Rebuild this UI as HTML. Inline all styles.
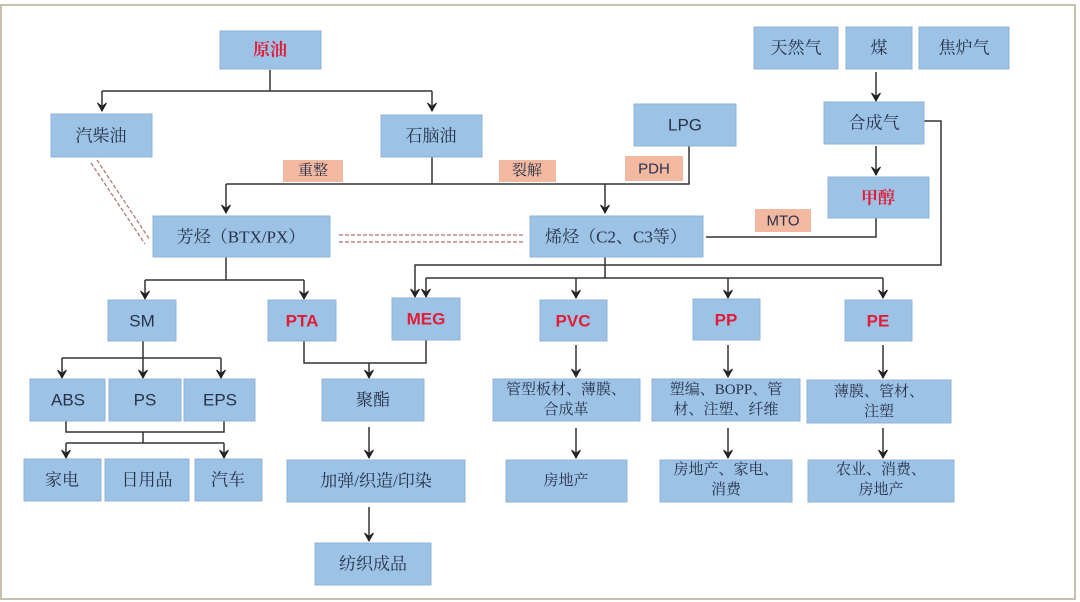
<!DOCTYPE html>
<html><head><meta charset="utf-8"><style>
html,body{margin:0;padding:0;background:#fff;}
svg{display:block;}
.b{fill:#9cc3e5;stroke:#8fb3d6;stroke-width:1;}
.o{fill:#f3b8a0;}
.t{font-family:"Liberation Serif","Noto Serif CJK SC",serif;font-size:17px;fill:#27314a;text-anchor:middle;dominant-baseline:central;}
.l{font-family:"Liberation Sans","Noto Sans CJK SC",sans-serif;font-size:17px;fill:#27314a;text-anchor:middle;dominant-baseline:central;}
.r{fill:#e21c36;font-weight:bold;}
.s{font-size:15px;}
.ln{stroke:#333;stroke-width:1.5;fill:none;}
</style></head><body>
<svg width="1080" height="602" viewBox="0 0 1080 602" xmlns="http://www.w3.org/2000/svg">
<defs><marker id="a" markerWidth="12" markerHeight="12" refX="6" refY="10" orient="0" markerUnits="userSpaceOnUse" viewBox="0 0 12 12"><path d="M1.5,2 L6,10 L10.5,2 L6,5.5 Z" fill="#222" stroke="#222" stroke-width="1"/></marker></defs>
<rect x="1" y="5" width="1074" height="594" fill="#fff" stroke="#c8bfae" stroke-width="2"/>

<g class="ln">
<path d="M270,70 V91 M102,91 H432"/>
<path d="M102,91 V111" marker-end="url(#a)"/><path d="M432,91 V111" marker-end="url(#a)"/>
<path d="M432,157 V184 M226,184 H689 V146"/>
<path d="M226,184 V213" marker-end="url(#a)"/><path d="M605,184 V213" marker-end="url(#a)"/>
<path d="M876,72 V101" marker-end="url(#a)"/>
<path d="M876,146 V175" marker-end="url(#a)"/>
<path d="M876,218 V237 H706"/>
<path d="M924,121 H941 V265 H415 V297" marker-end="url(#a)"/>
<path d="M605,257 V278 H883 M426,278 H605"/>
<path d="M426,278 V297" marker-end="url(#a)"/>
<path d="M576,278 V298" marker-end="url(#a)"/><path d="M728,278 V298" marker-end="url(#a)"/><path d="M883,278 V298" marker-end="url(#a)"/>
<path d="M226,257 V280 M145,280 H304"/>
<path d="M145,280 V299" marker-end="url(#a)"/><path d="M304,280 V299" marker-end="url(#a)"/>
<path d="M143,341 V358 M62,358 H221"/>
<path d="M62,358 V378" marker-end="url(#a)"/><path d="M143,358 V378" marker-end="url(#a)"/><path d="M221,358 V378" marker-end="url(#a)"/>
<path d="M66,421 V432 H224 V421 M143,432 V443 M66,443 H224"/>
<path d="M66,443 V458" marker-end="url(#a)"/><path d="M224,443 V458" marker-end="url(#a)"/>
<path d="M304,341 V363 H426 V340 M369,363 V378" marker-end="url(#a)"/>
<path d="M369,427 V458" marker-end="url(#a)"/>
<path d="M369,507 V541" marker-end="url(#a)"/>
<path d="M576,345 V377" marker-end="url(#a)"/><path d="M728,345 V377" marker-end="url(#a)"/><path d="M883,345 V378" marker-end="url(#a)"/>
<path d="M576,428 V458" marker-end="url(#a)"/><path d="M728,428 V458" marker-end="url(#a)"/><path d="M883,428 V458" marker-end="url(#a)"/>
</g>
<g stroke="#b07070" stroke-width="1.2" stroke-dasharray="4,2" fill="none">
<path d="M91,163 L145,244"/><path d="M97,160 L150,240"/>
<path d="M339,235 H525"/><path d="M339,242 H525"/>
</g>

<rect class="b" x="220" y="31" width="101" height="38"/><text class="t r" x="270" y="50">原油</text>
<rect class="b" x="51" y="114" width="101" height="43"/><text class="t" x="101" y="136">汽柴油</text>
<rect class="b" x="381" y="115" width="101" height="42"/><text class="t" x="431" y="136">石脑油</text>
<rect class="o" x="283" y="160" width="60" height="22"/><text class="t s" x="313" y="171">重整</text>
<rect class="o" x="499" y="160" width="57" height="22"/><text class="t s" x="527" y="171">裂解</text>
<rect class="b" x="634" y="104" width="102" height="42"/><text class="l" x="685" y="125">LPG</text>
<rect class="o" x="625" y="156" width="58" height="25"/><text class="l s" x="654" y="169">PDH</text>
<rect class="b" x="754" y="27" width="84" height="42"/><text class="t" x="796" y="48">天然气</text>
<rect class="b" x="846" y="27" width="66" height="42"/><text class="t" x="879" y="48">煤</text>
<rect class="b" x="919" y="27" width="90" height="42"/><text class="t" x="964" y="48">焦炉气</text>
<rect class="b" x="824" y="102" width="100" height="42"/><text class="t" x="874" y="123">合成气</text>
<rect class="b" x="828" y="177" width="101" height="41"/><text class="t r" x="878" y="198">甲醇</text>
<rect class="o" x="755" y="209" width="56" height="23"/><text class="l s" x="783" y="221">MTO</text>
<rect class="b" x="153" y="216" width="177" height="41"/><text class="t" x="241" y="237">芳烃（BTX/PX）</text>
<rect class="b" x="530" y="216" width="173" height="41"/><text class="t" x="616" y="237">烯烃（C2、C3等）</text>

<rect class="b" x="108" y="300" width="68" height="41"/><text class="l" x="142" y="321">SM</text>
<rect class="b" x="268" y="300" width="68" height="41"/><text class="l r" x="302" y="321">PTA</text>
<rect class="b" x="392" y="298" width="68" height="42"/><text class="l r" x="426" y="319">MEG</text>
<rect class="b" x="540" y="300" width="67" height="41"/><text class="l r" x="573" y="321">PVC</text>
<rect class="b" x="693" y="299" width="67" height="41"/><text class="l r" x="726" y="320">PP</text>
<rect class="b" x="845" y="300" width="67" height="41"/><text class="l r" x="878" y="321">PE</text>

<rect class="b" x="30" y="379" width="75" height="42"/><text class="l" x="68" y="400">ABS</text>
<rect class="b" x="109" y="379" width="72" height="42"/><text class="l" x="145" y="400">PS</text>
<rect class="b" x="184" y="379" width="71" height="42"/><text class="l" x="220" y="400">EPS</text>
<rect class="b" x="322" y="379" width="102" height="42"/><text class="t" x="373" y="400">聚酯</text>
<rect class="b" x="493" y="379" width="147" height="42"/><text class="t s" x="566" y="390">管型板材、薄膜、</text><text class="t s" x="566" y="410">合成革</text>
<rect class="b" x="652" y="379" width="148" height="42"/><text class="t s" x="726" y="390">塑编、BOPP、管</text><text class="t s" x="726" y="410">材、注塑、纤维</text>
<rect class="b" x="807" y="380" width="144" height="43"/><text class="t s" x="879" y="392">薄膜、管材、</text><text class="t s" x="879" y="412">注塑</text>

<rect class="b" x="24" y="459" width="77" height="42"/><text class="t" x="62" y="480">家电</text>
<rect class="b" x="105" y="459" width="84" height="42"/><text class="t" x="147" y="480">日用品</text>
<rect class="b" x="195" y="459" width="67" height="42"/><text class="t" x="228" y="480">汽车</text>
<rect class="b" x="287" y="460" width="178" height="42"/><text class="t" x="376" y="481">加弹/织造/印染</text>
<rect class="b" x="506" y="460" width="121" height="42"/><text class="t s" x="566" y="481">房地产</text>
<rect class="b" x="660" y="460" width="132" height="42"/><text class="t s" x="726" y="470">房地产、家电、</text><text class="t s" x="726" y="490">消费</text>
<rect class="b" x="808" y="460" width="146" height="42"/><text class="t s" x="881" y="470">农业、消费、</text><text class="t s" x="881" y="490">房地产</text>
<rect class="b" x="315" y="543" width="116" height="42"/><text class="t" x="373" y="564">纺织成品</text>
</svg>
</body></html>
